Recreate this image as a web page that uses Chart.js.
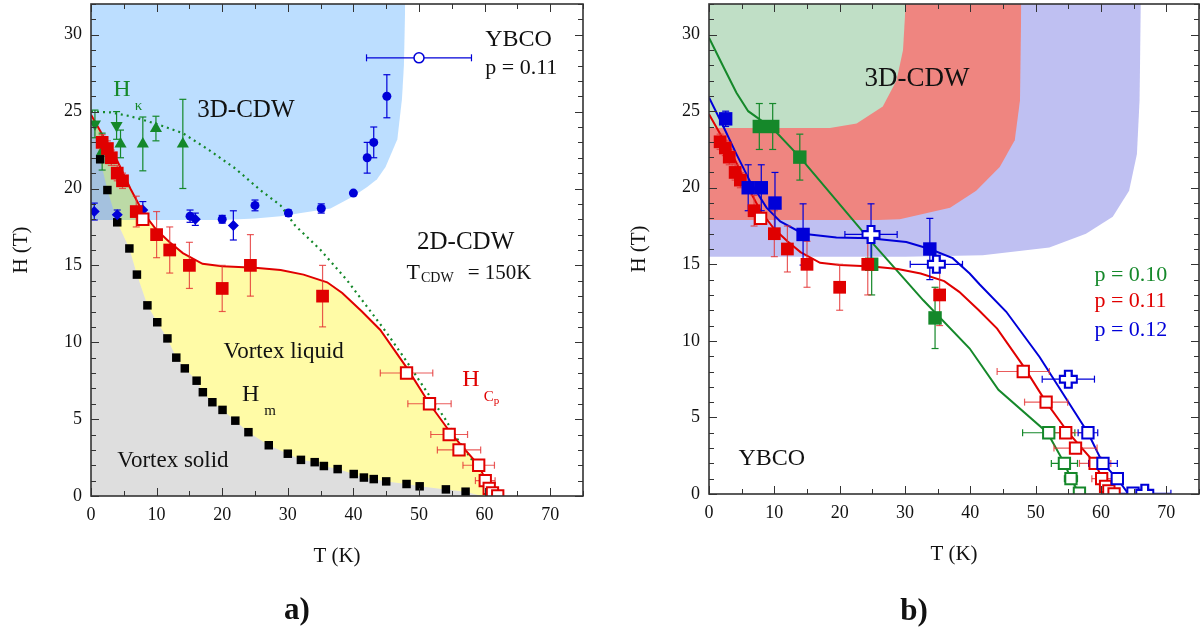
<!DOCTYPE html>
<html>
<head>
<meta charset="utf-8">
<script src="https://cdn.jsdelivr.net/npm/chart.js@4.4.1/dist/chart.umd.min.js"></script>
<style>
  body { margin: 0; background: #fff; width: 1203px; height: 632px; position: relative; overflow: hidden; }
  canvas { position: absolute; top: 0; }
  #ca { left: 0; }
  #cb { left: 600px; }
  .lab { position: absolute; font-family: 'Liberation Serif', serif; font-weight: bold; font-size: 31px; color: #111; transform: translate(-50%, -50%); }
</style>
</head>
<body>
<canvas id="ca" width="600" height="632"></canvas>
<canvas id="cb" width="603" height="632"></canvas>
<div class="lab" style="left:297px;top:609px">a)</div>
<div class="lab" style="left:914px;top:610px">b)</div>
<script>
// ticks
const xTicks = [0, 10, 20, 30, 40, 50, 60, 70];
const yTicks = [0, 5, 10, 15, 20, 25, 30];

// --- panel a ---
// 3D-CDW onset, blue dots / diamonds / open circle
const cdwDotT = [15.1, 20.0, 25.0, 30.1, 35.1, 40.0, 42.1, 43.1, 45.1];
const cdwDotH = [18.2, 18.0, 18.9, 18.4, 18.7, 19.7, 22.0, 23.0, 26.0];
const cdwDotE = [0.4, 0.25, 0.35, 0.2, 0.3, 0, 1.0, 1.0, 1.4];
const cdwDiaT = [0.5, 4.0, 7.9, 15.9, 21.7];
const cdwDiaH = [18.5, 18.3, 18.6, 18.0, 17.6];
const cdwDiaE = [0.55, 0.3, 0.55, 0.4, 0.95];
const cdwOpenT = [50.0];
const cdwOpenH = [28.5];
const cdwOpenXE = [8.0];

// H_kappa, green triangles + dotted line
const hkDownT = [0.6, 3.9];
const hkDownH = [24.2, 24.1];
const hkDownE = [0.9, 0.9];
const hkUpT = [1.7, 4.5, 7.9, 9.9, 14.0];
const hkUpH = [22.4, 22.9, 22.9, 23.9, 22.9];
const hkUpE = [1.2, 0.9, 1.75, 0.8, 2.9];
const hkLineT = [0, 3, 6, 10, 14, 18, 22, 25.8, 28.9, 31.1, 35, 39, 42.1, 45.1, 48.2, 51, 54, 56, 58, 60, 61];
const hkLineH = [25, 24.95, 24.7, 24.2, 23.6, 22.5, 21.3, 19.9, 18.9, 17.6, 16.0, 14.05, 12.3, 10.6, 8.7, 6.9, 5.0, 3.6, 2.4, 0.9, 0.2];

// p = 0.11 Hc2 (red)
const redT = [1.7, 2.5, 3.1, 4.0, 4.8, 6.9, 10.0, 12.0, 15.0, 20.0, 24.3, 35.3];
const redH = [23.0, 22.6, 22.0, 21.0, 20.5, 18.5, 17.0, 16.0, 15.0, 13.5, 15.0, 13.0];
const redE = [0.5, 0.5, 0.5, 0.5, 0.5, 1.0, 1.5, 1.5, 1.5, 1.5, 2.0, 2.0];
const redOpenT = [7.9, 48.1, 51.6, 54.6, 56.1, 59.1, 60.1, 60.7, 61.2, 62.0];
const redOpenH = [18.0, 8.0, 6.0, 4.0, 3.0, 2.0, 1.0, 0.5, 0.2, 0.0];
const redOpenXE = [0, 4.0, 3.3, 2.8, 3.3, 2.4, 1.5, 0, 0, 0];
const redLineT = [0, 2, 4, 6, 8, 10, 12, 14, 17, 20, 25, 28.9, 32.4, 36, 38.3, 41.3, 44.1, 48.2, 51.6, 55, 59.1, 60.2, 61, 62.3];
const redLineH = [24.8, 23.3, 21.8, 20.0, 18.4, 17.3, 16.5, 15.8, 15.1, 14.95, 14.85, 14.7, 14.4, 13.9, 13.2, 12.0, 10.8, 8.3, 6.0, 4.0, 2.0, 1.0, 0.5, 0];

// H_m vortex melting (black)
const hmT = [1.4, 2.5, 4.0, 5.85, 7.0, 8.6, 10.1, 11.65, 13.0, 14.3, 16.1, 17.05, 18.5, 20.05, 22.0, 24.0, 27.1, 30.0, 32.0, 34.1, 35.5, 37.6, 40.05, 41.6, 43.1, 45.0, 48.1, 50.1, 54.1, 57.1];
const hmH = [21.9, 19.9, 17.8, 16.1, 14.4, 12.4, 11.3, 10.25, 9.0, 8.3, 7.5, 6.75, 6.1, 5.6, 4.9, 4.15, 3.3, 2.75, 2.35, 2.2, 1.95, 1.75, 1.43, 1.2, 1.1, 0.95, 0.78, 0.63, 0.43, 0.28];

// 3D-CDW region edge
const cdwEdgeT = [0, 10, 20, 25, 28.9, 32, 36.5, 40, 42.1, 43.6, 44.9, 46.7, 47.4, 47.7, 47.9];
const cdwEdgeH = [17.95, 17.95, 17.95, 18.05, 18.2, 18.4, 18.7, 19.5, 20.1, 20.6, 21.4, 23.2, 25.8, 28.0, 32];

// --- panel b ---
const edge10T = [0, 18.5, 22.6, 26.6, 28.7, 29.7, 30.1];
const edge10H = [23.9, 23.9, 24.2, 25.3, 27.0, 29.0, 32];
const edge11T = [0, 25.9, 29.2, 36.9, 40.9, 44.5, 46.8, 47.6, 47.8];
const edge11H = [17.9, 17.9, 17.95, 18.7, 19.8, 21.35, 23.1, 25.7, 32];
const edge12T = [0, 30, 41.9, 52.1, 57.7, 61.8, 64.3, 65.5, 65.9, 66.1];
const edge12H = [15.5, 15.5, 15.6, 16.1, 17.0, 18.1, 19.8, 22.2, 25.7, 32];

const line10T = [0, 2.2, 4.2, 6.0, 8.3, 9.8, 13.9, 24.6, 32.8, 39.9, 44.3, 51.8, 54.4, 55.4, 56.7];
const line10H = [29.8, 27.9, 26.2, 25.0, 24.3, 23.85, 22.0, 16.6, 12.65, 9.5, 6.8, 4.0, 2.0, 1.0, 0];
const line12T = [0, 2.2, 4.2, 6.3, 8.8, 10.9, 14.4, 19.5, 24.6, 30.2, 33.8, 37.3, 39.9, 41.4, 45.5, 50.6, 58.0, 60.3, 62.5, 64.2];
const line12H = [25.9, 24.0, 22.2, 20.4, 18.7, 17.8, 17.0, 16.75, 16.7, 16.45, 16.0, 15.4, 14.4, 13.7, 11.9, 8.95, 4.0, 2.0, 1.0, 0];

const g10T = [7.7, 9.75, 13.9, 24.9, 34.6];
const g10H = [24.0, 24.0, 22.0, 15.0, 11.5];
const g10E = [1.5, 1.5, 1.5, 2.0, 2.0];
const g10OpenT = [52.0, 54.4, 55.4, 56.7];
const g10OpenH = [4.0, 2.0, 1.0, 0.05];
const g10OpenXE = [4.0, 2.0, 1.0, 0];

const b12T = [2.55, 6.0, 8.0, 10.1, 14.4, 33.8];
const b12H = [24.5, 20.0, 20.0, 19.0, 16.95, 16.0];
const b12E = [0.5, 1.5, 1.5, 2.0, 2.0, 2.0];
const b12CrossT = [24.8, 34.8, 55.0, 66.7];
const b12CrossH = [16.95, 15.0, 7.5, 0.05];
const b12CrossXE = [4, 4, 4, 4];
const b12CrossYE = [2, 0, 0, 0];
const b12OpenT = [58.0, 60.3, 62.5, 64.9];
const b12OpenH = [4.0, 2.0, 1.0, 0.05];
const b12OpenXE = [1.5, 2.2, 0, 0];

const FONT = "'Liberation Serif', serif";
const RED = '#e00000', BLUE = '#0000d8', GREEN = '#15882a';

const pts = (xs, ys) => xs.map((x, i) => ({x, y: ys[i]}));

function errY(xs, ys, es, color) {
  const data = [];
  xs.forEach((x, i) => { if (es[i]) data.push({x, y: ys[i] - es[i]}, {x, y: ys[i] + es[i]}, {x, y: null}); });
  return { data, borderColor: color, borderWidth: 1.2, pointStyle: 'line', pointRadius: 3.5,
    pointBorderColor: color, pointBorderWidth: 1.2, fill: false };
}
function errX(xs, ys, es, color) {
  const data = [];
  xs.forEach((x, i) => { if (es[i]) data.push({x: x - es[i], y: ys[i]}, {x: x + es[i], y: ys[i]}, {x, y: null}); });
  return { data, borderColor: color, borderWidth: 1.2, pointStyle: 'line', pointRadius: 3.5, pointRotation: 90,
    pointBorderColor: color, pointBorderWidth: 1.2, fill: false };
}
function marks(xs, ys, style, r, fillC, lineC, bw, rot) {
  return { data: pts(xs, ys), showLine: false, pointStyle: style, pointRadius: r, pointRotation: rot || 0,
    pointBackgroundColor: fillC, pointBorderColor: lineC, pointBorderWidth: bw || 0, fill: false };
}
function curve(xs, ys, color, w, extra) {
  return Object.assign({ data: pts(xs, ys), borderColor: color, borderWidth: w, pointRadius: 0, fill: false, tension: 0 }, extra || {});
}
function region(xs, ys, color, fill) {
  return { data: pts(xs, ys), borderWidth: 0, pointRadius: 0, fill: fill, backgroundColor: color, tension: 0 };
}

// datasets listed bottom -> top
function stack(list) {
  const n = list.length;
  list.forEach((d, i) => { d.order = n - i; });
  return list;
}

const frameTicks = {
  id: 'frameTicks',
  afterDraw(chart) {
    const {ctx, chartArea: a, scales: {x, y}} = chart;
    ctx.save();
    ctx.strokeStyle = '#333';
    ctx.lineWidth = 1;
    ctx.beginPath();
    for (let t = 0; t <= 75; t += 5) {
      const px = Math.round(x.getPixelForValue(t)) + 0.5, len = t % 10 ? 5 : 8;
      ctx.moveTo(px, a.bottom); ctx.lineTo(px, a.bottom - len);
      ctx.moveTo(px, a.top); ctx.lineTo(px, a.top + len);
    }
    for (let h = 0; h <= 32; h++) {
      const py = Math.round(y.getPixelForValue(h)) + 0.5, len = h % 5 ? 5 : 8;
      ctx.moveTo(a.left, py); ctx.lineTo(a.left + len, py);
      ctx.moveTo(a.right, py); ctx.lineTo(a.right - len, py);
    }
    ctx.stroke();
    ctx.lineWidth = 1.6;
    ctx.strokeRect(a.left, a.top, a.right - a.left, a.bottom - a.top);
    ctx.restore();
  }
};

const notes = {
  id: 'notes',
  afterDatasetsDraw(chart, args, opts) {
    const {ctx, scales: {x, y}} = chart;
    ctx.save();
    ctx.textBaseline = 'middle';
    (opts.items || []).forEach(n => {
      let px = x.getPixelForValue(n.t);
      const py = y.getPixelForValue(n.h);
      n.parts.forEach(([txt, size, dy, dx]) => {
        px += dx || 0;
        ctx.font = size + 'px ' + FONT;
        ctx.fillStyle = n.color || '#111';
        ctx.fillText(txt, px, py + (dy || 0));
        px += ctx.measureText(txt).width;
      });
    });
    ctx.restore();
  }
};

// multiply the shaded regions so the 3D-CDW band tints what lies beneath
const blendFills = {
  id: 'blendFills',
  beforeDraw(chart) { chart.ctx.globalCompositeOperation = 'multiply'; },
  beforeDatasetsDraw(chart) { chart.ctx.globalCompositeOperation = 'source-over'; }
};

function axes(yWidth, yTitlePad) {
  const tickFont = {family: FONT, size: 18};
  return {
    x: {
      type: 'linear', min: 0, max: 75,
      afterBuildTicks: s => { s.ticks = xTicks.map(v => ({value: v})); },
      afterFit: s => { s.height = 80; s.paddingLeft = 0; s.paddingRight = 0; },
      grid: {display: false, drawTicks: false}, border: {display: false},
      ticks: {color: '#111', font: tickFont, padding: 8, maxRotation: 0, autoSkip: false},
      title: {display: true, text: 'T (K)', color: '#111', font: {family: FONT, size: 21}, padding: {top: 0, bottom: 7}}
    },
    y: {
      type: 'linear', min: 0, max: 32,
      afterBuildTicks: s => { s.ticks = yTicks.map(v => ({value: v})); },
      afterFit: s => { s.width = yWidth; s.paddingTop = 0; s.paddingBottom = 0; },
      grid: {display: false, drawTicks: false}, border: {display: false},
      ticks: {color: '#111', font: tickFont, padding: 9, autoSkip: false},
      title: {display: true, text: 'H (T)', color: '#111', font: {family: FONT, size: 21}, padding: {top: yTitlePad, bottom: 0}}
    }
  };
}

// ---------- panel a ----------
const dsA = stack([
  region(cdwEdgeT, cdwEdgeH, '#bcdeff', 'end'),
  region([0].concat(hmT, [59.6, 62.5]), [24.8].concat(hmH, [0, 0]), '#dedede', 'origin'),
  curve(hkLineT, hkLineH, GREEN, 2.2, {borderDash: [2, 4]}),
  curve(redLineT, redLineH, RED, 2, {fill: {target: 1}, backgroundColor: '#fffba6'}),
  errY(cdwDotT, cdwDotH, cdwDotE, BLUE),
  errY(cdwDiaT, cdwDiaH, cdwDiaE, BLUE),
  errX(cdwOpenT, cdwOpenH, cdwOpenXE, BLUE),
  errY(hkUpT, hkUpH, hkUpE, GREEN),
  errY(hkDownT, hkDownH, hkDownE, GREEN),
  errY(redT, redH, redE, 'rgba(228,50,50,0.8)'),
  errX(redOpenT, redOpenH, redOpenXE, 'rgba(228,50,50,0.8)'),
  marks(hmT, hmH, 'rect', 6, '#000', '#000'),
  marks(cdwDotT, cdwDotH, 'circle', 4.5, BLUE, BLUE),
  marks(cdwDiaT, cdwDiaH, 'rectRot', 5.5, BLUE, BLUE),
  marks(cdwOpenT, cdwOpenH, 'circle', 5, '#fff', BLUE, 1.5),
  marks(hkUpT, hkUpH, 'triangle', 7, GREEN, GREEN),
  marks(hkDownT, hkDownH, 'triangle', 7, GREEN, GREEN, 0, 180),
  marks(redT, redH, 'rect', 9, RED, RED),
  marks(redOpenT, redOpenH, 'rect', 8, '#fff', RED, 2)
]);

const notesA = [
  {t: 16.2, h: 25.1, parts: [['3D-CDW', 25]]},
  {t: 3.4, h: 26.45, color: GREEN, parts: [['H', 24], ['\u03ba', 15, 17, 4]]},
  {t: 60.1, h: 29.66, parts: [['YBCO', 24]]},
  {t: 60.1, h: 27.84, parts: [['p = 0.11', 22]]},
  {t: 49.7, h: 16.46, parts: [['2D-CDW', 25]]},
  {t: 48.1, h: 14.5, parts: [['T', 22], ['CDW', 14, 5, 1], ['= 150K', 21, 0, 14]]},
  {t: 20.2, h: 9.39, parts: [['Vortex liquid', 23]]},
  {t: 23.0, h: 6.57, parts: [['H', 24], ['m', 15, 16, 5]]},
  {t: 4.0, h: 2.3, parts: [['Vortex solid', 23]]},
  {t: 56.6, h: 7.54, color: RED, parts: [['H', 24], ['C', 15, 17, 4], ['p', 11, 21, 0]]}
];

new Chart(document.getElementById('ca'), {
  type: 'line',
  data: {datasets: dsA},
  options: {
    responsive: false, animation: false, events: [],
    layout: {autoPadding: false, padding: {left: 0, right: 17, top: 4, bottom: 56}},
    scales: axes(91, 9),
    plugins: {legend: {display: false}, tooltip: {enabled: false},
      filler: {drawTime: 'beforeDatasetsDraw'}, notes: {items: notesA}}
  },
  plugins: [blendFills, notes, frameTicks]
});

// ---------- panel b ----------
const dsB = stack([
  region(edge12T, edge12H, '#bfc0f2', 'end'),
  region(edge11T, edge11H, '#ef8580', 'end'),
  region(edge10T, edge10H, '#c0dfc6', 'end'),
  curve(line10T, line10H, GREEN, 2),
  curve(redLineT, redLineH, RED, 2),
  curve(line12T, line12H, BLUE, 2),
  errY(g10T, g10H, g10E, GREEN),
  errX(g10OpenT, g10OpenH, g10OpenXE, GREEN),
  errY(redT, redH, redE, 'rgba(228,50,50,0.8)'),
  errX(redOpenT, redOpenH, redOpenXE, 'rgba(228,50,50,0.8)'),
  errY(b12T, b12H, b12E, BLUE),
  errX(b12CrossT, b12CrossH, b12CrossXE, BLUE),
  errY(b12CrossT, b12CrossH, b12CrossYE, BLUE),
  errX(b12OpenT, b12OpenH, b12OpenXE, BLUE),
  marks(g10T, g10H, 'rect', 9.5, GREEN, GREEN),
  marks(g10OpenT, g10OpenH, 'rect', 8, '#fff', GREEN, 2),
  marks(redT, redH, 'rect', 9, RED, RED),
  marks(redOpenT, redOpenH, 'rect', 8, '#fff', RED, 2),
  marks(b12T, b12H, 'rect', 9.5, BLUE, BLUE),
  marks(b12OpenT, b12OpenH, 'rect', 8, '#fff', BLUE, 2),
  marks(b12CrossT, b12CrossH, 'cross', 9.5, BLUE, BLUE, 9),
  marks(b12CrossT, b12CrossH, 'cross', 7.5, '#fff', '#fff', 4.5)
]);

const notesB = [
  {t: 23.8, h: 27.1, parts: [['3D-CDW', 27]]},
  {t: 59.0, h: 14.3, color: GREEN, parts: [['p = 0.10', 22]]},
  {t: 59.0, h: 12.56, color: RED, parts: [['p = 0.11', 22]]},
  {t: 59.0, h: 10.71, color: BLUE, parts: [['p = 0.12', 22]]},
  {t: 4.5, h: 2.33, parts: [['YBCO', 24]]}
];

new Chart(document.getElementById('cb'), {
  type: 'line',
  data: {datasets: dsB},
  options: {
    responsive: false, animation: false, events: [],
    layout: {autoPadding: false, padding: {left: 0, right: 4, top: 4, bottom: 58}},
    scales: axes(109, 27),
    plugins: {legend: {display: false}, tooltip: {enabled: false},
      filler: {drawTime: 'beforeDatasetsDraw'}, notes: {items: notesB}}
  },
  plugins: [notes, frameTicks]
});
</script>
</body>
</html>
